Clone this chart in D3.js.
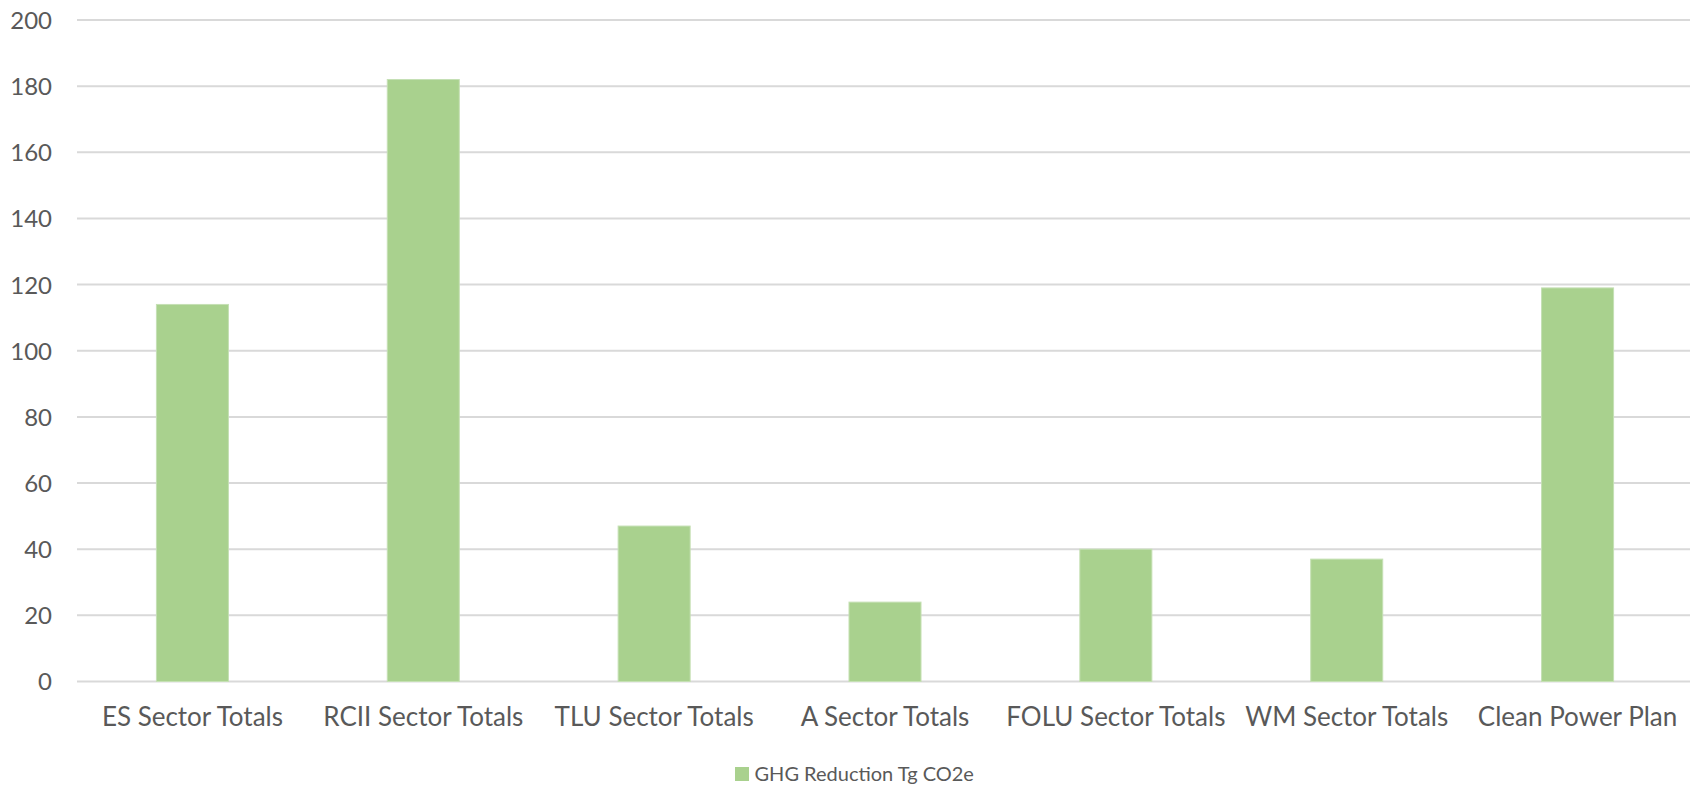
<!DOCTYPE html>
<html>
<head>
<meta charset="utf-8">
<script src="https://cdn.jsdelivr.net/npm/d3@7"></script>
<style>
  html, body { margin: 0; padding: 0; background: #ffffff; }
  svg { display: block; }
  text { font-family: Lato, "Open Sans", sans-serif; fill: #595959; }
</style>
</head>
<body>
<svg id="chart" width="1690" height="786"></svg>
<script>
// Greenhouse gas reductions by sector (Tg CO2e)
const categories = [
  "ES Sector Totals",
  "RCII Sector Totals",
  "TLU Sector Totals",
  "A Sector Totals",
  "FOLU Sector Totals",
  "WM Sector Totals",
  "Clean Power Plan"
];
const ghgReduction = [114, 182, 47, 24, 40, 37, 119];
const yTicks = [0, 20, 40, 60, 80, 100, 120, 140, 160, 180, 200];
const seriesName = "GHG Reduction Tg CO2e";

const svg = d3.select("#chart");
const margin = { left: 77, right: -3, top: 20, bottom: 104.5 };
const width = 1690, height = 786;

const x = d3.scaleBand()
  .domain(categories)
  .range([margin.left, width - margin.right])
  .paddingInner(0.688)
  .paddingOuter(0.344);

const y = d3.scaleLinear()
  .domain([0, 200])
  .range([height - margin.bottom, margin.top]);

// horizontal gridlines
svg.append("g")
  .selectAll("line")
  .data(yTicks)
  .join("line")
  .attr("x1", margin.left)
  .attr("x2", width)
  .attr("y1", d => y(d))
  .attr("y2", d => y(d))
  .attr("stroke", "#d9d9d9")
  .attr("stroke-width", 2);

// y axis labels
const yAxis = d3.axisLeft(y).tickValues(yTicks).tickSize(0).tickPadding(0);
svg.append("g")
  .attr("transform", `translate(52,0)`)
  .call(yAxis)
  .call(g => g.select(".domain").remove())
  .call(g => g.selectAll("text")
    .attr("font-size", 24)
    .attr("font-family", "Lato, sans-serif")
    .attr("fill", "#595959")
    .attr("dy", "0.35em"));

// bars
svg.append("g")
  .selectAll("rect")
  .data(categories.map((c, i) => ({ c, v: ghgReduction[i] })))
  .join("rect")
  .attr("x", d => x(d.c))
  .attr("width", x.bandwidth())
  .attr("y", d => y(d.v))
  .attr("height", d => y(0) - y(d.v))
  .attr("fill", "#a9d18e")
  .attr("stroke", "#c5e0b4")
  .attr("stroke-width", 1);

// category axis
const xAxis = d3.axisBottom(x).tickSize(0).tickPadding(0);
svg.append("g")
  .attr("transform", `translate(0,${y(0)})`)
  .call(xAxis)
  .call(g => g.select(".domain").remove())
  .call(g => g.selectAll("text")
    .attr("font-size", 26)
    .attr("font-family", "Lato, sans-serif")
    .attr("fill", "#595959")
    .attr("dy", null)
    .attr("y", 44.5));

// legend
const legend = svg.append("g").attr("transform", "translate(735,767)");
legend.append("rect")
  .attr("width", 14).attr("height", 14)
  .attr("fill", "#a9d18e");
legend.append("text")
  .attr("x", 19.5)
  .attr("y", 14)
  .attr("font-size", 20)
  .text(seriesName);
</script>
</body>
</html>
